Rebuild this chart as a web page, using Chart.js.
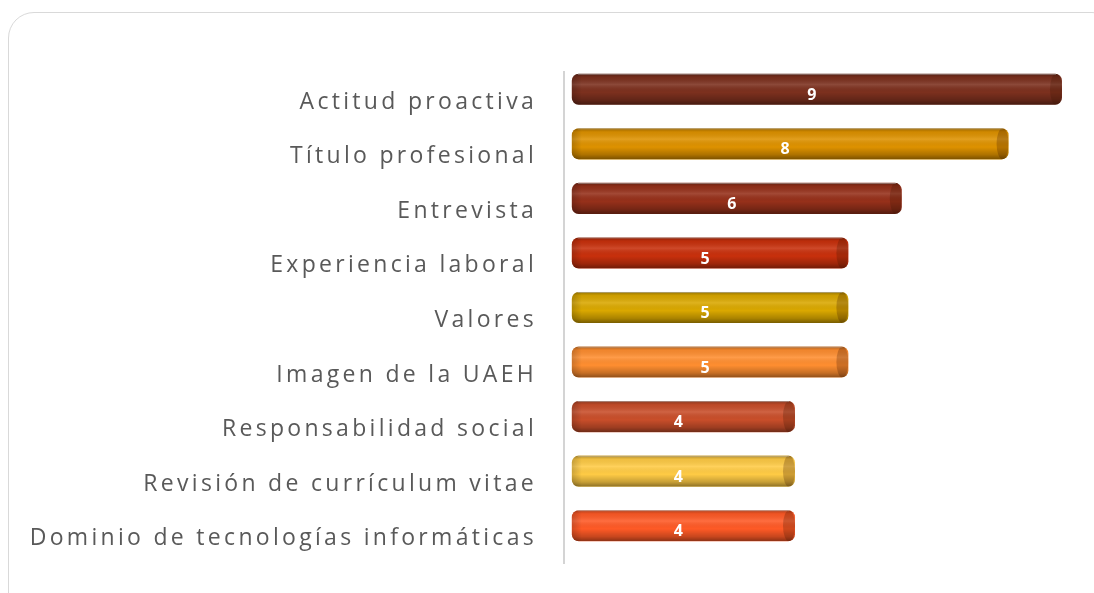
<!DOCTYPE html>
<html>
<head>
<meta charset="utf-8">
<script src="https://cdn.jsdelivr.net/npm/chart.js@4.4.1/dist/chart.umd.min.js"></script>
<style>
  html, body { margin: 0; padding: 0; background: #ffffff; overflow: hidden; width: 1094px; height: 593px; }
  #frame { position: absolute; left: 8px; top: 12px; width: 1110px; height: 610px; border: 1.5px solid #d9d9d9; border-radius: 26px; box-sizing: border-box; }
  #c { position: absolute; left: 0; top: 0; }
</style>
</head>
<body>
<div id="frame"></div>
<canvas id="c" width="1094" height="593"></canvas>
<script>
const categories = [
  "Actitud proactiva",
  "Título profesional",
  "Entrevista",
  "Experiencia laboral",
  "Valores",
  "Imagen de la UAEH",
  "Responsabilidad social",
  "Revisión de currículum vitae",
  "Dominio de tecnologías informáticas"
];
const values = [9, 8, 6, 5, 5, 5, 4, 4, 4];
const barColors = ["#7c301e", "#de9200", "#96301a", "#c8300c", "#daa800", "#ff8e30", "#c94e2a", "#ffcb45", "#ff5a26"];

const BAR_SHIFT = -10;

const cylinderPlugin = {
  id: 'cylinder',
  beforeDraw(chart) {
    chart.ctx.letterSpacing = '3.3px';
  },
  beforeDatasetsDraw(chart) {
    const ctx = chart.ctx;
    ctx.letterSpacing = '0px';
    ctx.save();
    ctx.translate(0, BAR_SHIFT);
  },
  afterDatasetsDraw(chart) {
    const ctx = chart.ctx;
    const meta = chart.getDatasetMeta(0);
    meta.data.forEach((el) => {
      const left = Math.min(el.base, el.x);
      const right = Math.max(el.base, el.x);
      const h = el.height;
      const top = el.y - h / 2;
      const w = right - left;
      ctx.save();
      ctx.beginPath();
      ctx.roundRect(left, top, w, h, 7);
      ctx.clip();
      const g = ctx.createLinearGradient(0, top, 0, top + h);
      g.addColorStop(0, 'rgba(0,0,0,0.30)');
      g.addColorStop(0.12, 'rgba(0,0,0,0.06)');
      g.addColorStop(0.35, 'rgba(255,255,255,0.12)');
      g.addColorStop(0.6, 'rgba(0,0,0,0.0)');
      g.addColorStop(0.85, 'rgba(0,0,0,0.22)');
      g.addColorStop(1, 'rgba(0,0,0,0.45)');
      ctx.fillStyle = g;
      ctx.fillRect(left, top, w, h);
      // left end shading
      const gl = ctx.createLinearGradient(left, 0, left + 10, 0);
      gl.addColorStop(0, 'rgba(0,0,0,0.18)');
      gl.addColorStop(1, 'rgba(0,0,0,0)');
      ctx.fillStyle = gl;
      ctx.fillRect(left, top, 10, h);
      // right end cap
      ctx.beginPath();
      ctx.ellipse(right - 6, el.y, 6, h / 2, 0, 0, Math.PI * 2);
      ctx.fillStyle = 'rgba(60,20,0,0.25)';
      ctx.fill();
      ctx.restore();
      // thin top highlight line
      ctx.save();
      ctx.beginPath();
      ctx.moveTo(left + 6, top + 0.5);
      ctx.lineTo(right - 6, top + 0.5);
      ctx.strokeStyle = 'rgba(180,180,180,0.6)';
      ctx.lineWidth = 1;
      ctx.stroke();
      ctx.restore();
    });
    ctx.restore();
    // value labels
    ctx.save();
    ctx.font = 'bold 16px "Open Sans", sans-serif';
    ctx.fillStyle = '#ffffff';
    ctx.textAlign = 'center';
    ctx.textBaseline = 'middle';
    meta.data.forEach((el, i) => {
      const left = Math.min(el.base, el.x);
      const right = Math.max(el.base, el.x);
      ctx.fillText(String(values[i]), (left + right) / 2 - 5, el.y - 4);
    });
    ctx.restore();
  }
};

new Chart(document.getElementById('c'), {
  type: 'bar',
  data: {
    labels: categories,
    datasets: [{
      data: values,
      base: -0.18,
      backgroundColor: barColors,
      borderWidth: 0,
      borderRadius: 7,
      borderSkipped: false,
      barPercentage: 0.57,
      categoryPercentage: 1.0
    }]
  },
  options: {
    indexAxis: 'y',
    responsive: false,
    animation: false,
    devicePixelRatio: 1,
    layout: { padding: { top: 72, bottom: 30, left: 0, right: 32 } },
    plugins: {
      legend: { display: false },
      tooltip: { enabled: false }
    },
    scales: {
      x: {
        display: false,
        min: -0.326,
        max: 9
      },
      y: {
        afterFit(scale) {
          scale.width = 564;
          scale.paddingTop = 0;
          scale.paddingBottom = 0;
        },
        grid: { display: false, drawTicks: false },
        border: { display: true, color: '#d4d4d4', width: 2 },
        ticks: {
          padding: 27,
          labelOffset: 3,
          color: '#595959',
          font: { family: '"Open Sans", sans-serif', size: 23 }
        }
      }
    }
  },
  plugins: [cylinderPlugin]
});
</script>
</body>
</html>
